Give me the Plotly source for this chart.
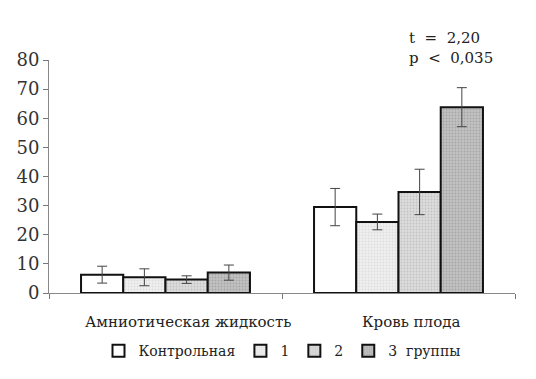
import plotly.graph_objects as go

categories = ["Амниотическая жидкость", "Кровь плода"]
series_names = ["Контрольная", "1", "2", "3  группы"]
values = [
    [6.3, 29.5],
    [5.4, 24.4],
    [4.6, 34.7],
    [7.0, 63.8],
]
errors = [
    [2.9, 6.4],
    [2.9, 2.7],
    [1.3, 7.8],
    [2.6, 6.7],
]
fills = ["#ffffff", "#f0f0f0", "#dddddd", "#c2c2c2"]
dots = ["#ffffff", "#c8c8c8", "#a8a8a8", "#888888"]
y_ticks = [0, 10, 20, 30, 40, 50, 60, 70, 80]
annotation_text = "t  =  2,20<br>p  <  0,035"

FONT = "DejaVu Serif"

fig = go.Figure()
for name, vals, errs, col, dot in zip(series_names, values, errors, fills, dots):
    fig.add_trace(go.Bar(
        x=categories, y=vals, name=name,
        marker=dict(color=col, line=dict(color="#111111", width=2),
                    pattern=dict(shape="." if dot != "#ffffff" else "",
                                 bgcolor=col, fgcolor=dot, size=3, solidity=0.3)),
        error_y=dict(type="data", array=errs, visible=True,
                     color="#444444", thickness=1, width=5),
    ))

fig.update_layout(
    width=536, height=379,
    margin=dict(l=49, r=21, t=60, b=83),
    paper_bgcolor="white", plot_bgcolor="white",
    barmode="group", bargap=0.275, bargroupgap=0,
    font=dict(family=FONT, size=15, color="#222222"),
    showlegend=True,
    legend=dict(orientation="h", x=0.5, xanchor="center", y=-0.25, yanchor="middle",
                font=dict(family=FONT, size=14, color="#222222"),
                itemwidth=30, tracegroupgap=0),
    xaxis=dict(range=[-0.5, 1.5], showticklabels=False, ticks="outside",
               tickson="boundaries", ticklen=5, tickcolor="#777777",
               showline=True, linecolor="#888888", linewidth=1,
               showgrid=False, zeroline=False, fixedrange=True),
    yaxis=dict(range=[0, 80], tickvals=y_ticks, ticks="outside", ticklen=5,
               tickcolor="#777777", showline=True, linecolor="#888888", linewidth=1,
               showgrid=False, zeroline=False,
               tickfont=dict(family=FONT, size=18, color="#333333")),
)

for cat, shift in zip(categories, [22, 12]):
    fig.add_annotation(x=cat, xref="x", y=-0.123, yref="paper", yanchor="middle",
                       xshift=shift, text=cat, showarrow=False,
                       font=dict(family=FONT, size=15, color="#222222"))

fig.add_annotation(x=0.768, xref="paper", y=1.05, yref="paper", xanchor="left",
                   yanchor="middle", align="left", text=annotation_text,
                   showarrow=False, font=dict(family=FONT, size=15, color="#222222"))

fig.write_html("out.html")
